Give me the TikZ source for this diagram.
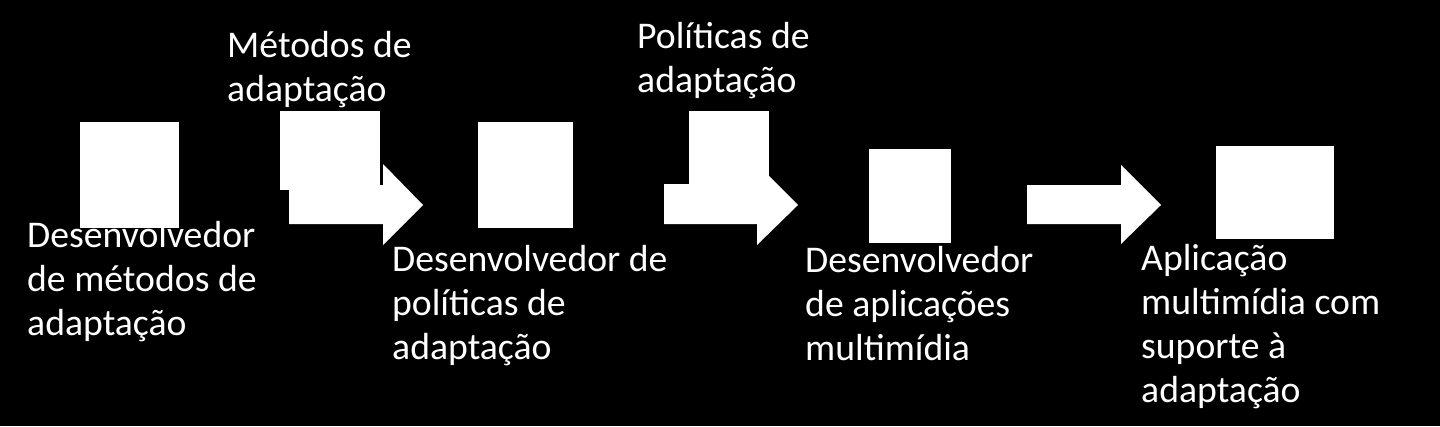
\documentclass[tikz,border=0pt]{standalone}
\usepackage{fontspec}
\setmainfont{Carlito}
\begin{document}
\begin{tikzpicture}[x=1pt,y=-1pt,
  box/.style={fill=white,draw=none,inner sep=0pt,outer sep=0pt,anchor=north west},
  blockarrow/.style={fill=white,draw=none},
  lbl/.style={text=white,inner sep=0pt,anchor=base west,font=\fontsize{37.7}{44}\selectfont}]
\fill[black] (0,0) rectangle (1440,426);
\useasboundingbox (0,0) rectangle (1440,426);
% boxes
\node[box,minimum width=99pt,minimum height=106pt] (b1) at (80,122) {};
\node[box,minimum width=100pt,minimum height=79pt] (b2) at (280,111) {};
\node[box,minimum width=95pt,minimum height=106pt] (b3) at (478,122) {};
\node[box,minimum width=80pt,minimum height=79pt] (p1) at (689,111) {};
\node[box,minimum width=82pt,minimum height=94pt] (b4) at (869,149) {};
\node[box,minimum width=118pt,minimum height=93pt] (b5) at (1216,146) {};
% block arrows
\fill[blockarrow] (289,185)--(383,185)--(383,164)--(423,205)--(383,245)--(383,224)--(289,224)--cycle;
\fill[blockarrow] (664,184)--(757,184)--(757,164)--(798,205)--(757,245)--(757,224)--(664,224)--cycle;
\fill[blockarrow] (1027,185)--(1121,185)--(1121,165)--(1161,205)--(1121,244)--(1121,224)--(1027,224)--cycle;
% labels
\node[lbl] (t2) at (227,57) {\vtop{\hbox{Métodos de}\hbox{adaptação}}};
\node[lbl] (tp) at (637,48) {\vtop{\hbox{Políticas de}\hbox{adaptação}}};
\node[lbl] (t1) at (27,247) {\vtop{\hbox{Desenvolvedor}\hbox{de métodos de}\hbox{adaptação}}};
\node[lbl] (t3) at (392,271) {\vtop{\hbox{Desenvolvedor de}\hbox{políticas de}\hbox{adaptação}}};
\node[lbl] (t4) at (805,272) {\vtop{\hbox{Desenvolvedor}\hbox{de aplicações}\hbox{multimídia}}};
\node[lbl] (t5) at (1141,270) {\vtop{\hbox{Aplicação}\hbox{multimídia com}\hbox{suporte à}\hbox{adaptação}}};
\end{tikzpicture}
\end{document}
